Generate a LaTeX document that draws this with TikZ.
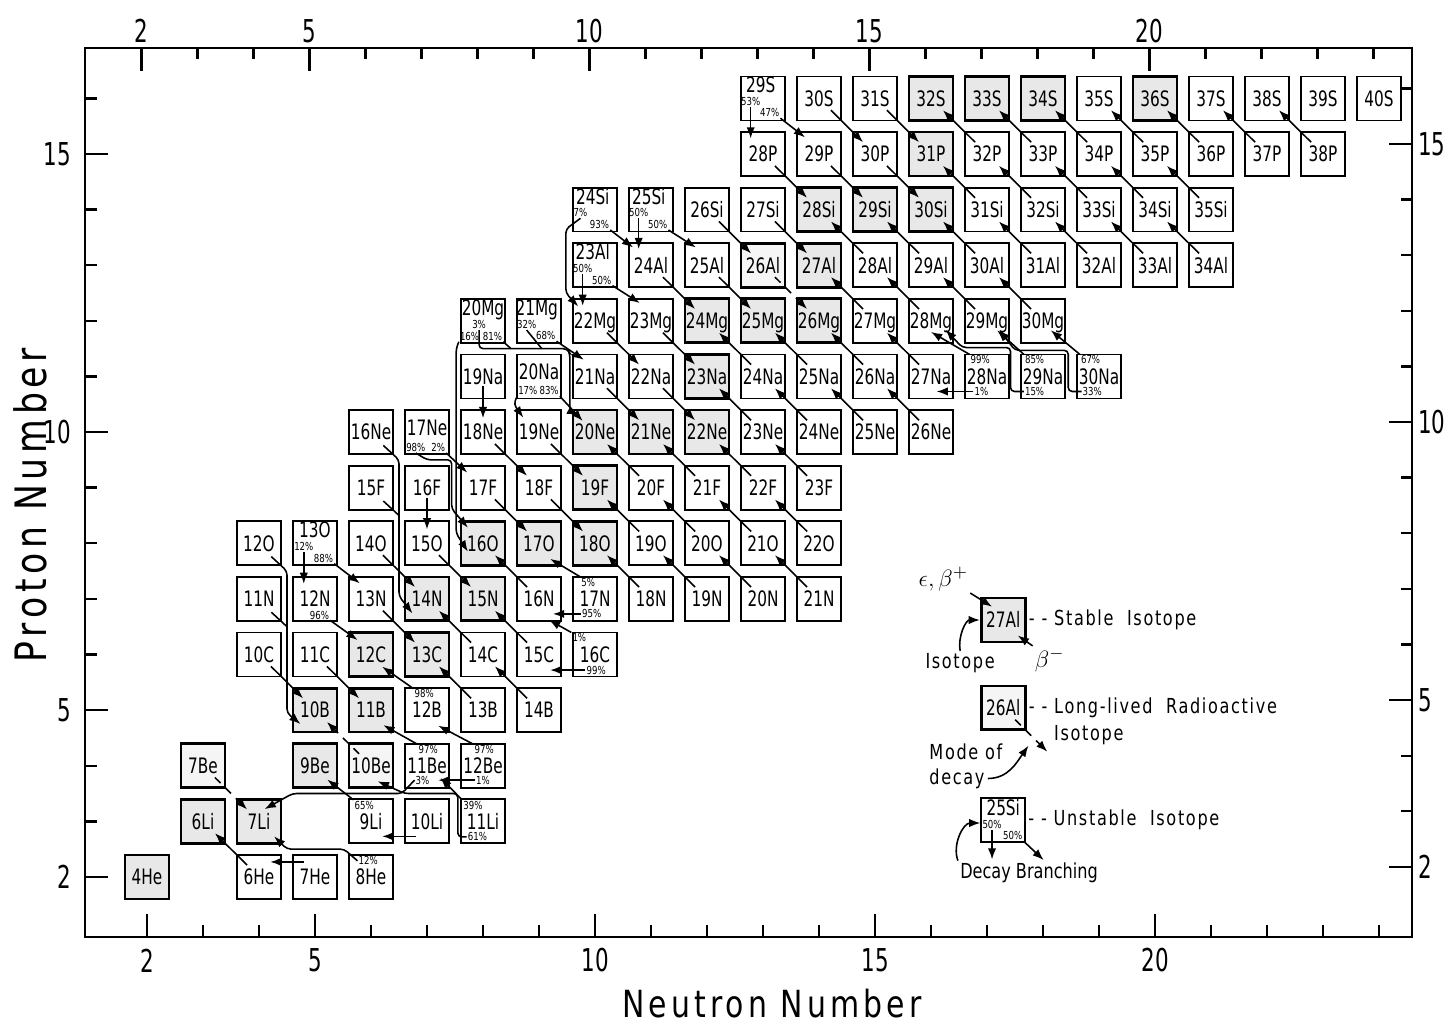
\documentclass[tikz,border=0pt]{standalone}
\usepackage{fontspec}
\setmainfont{DejaVu Sans}[FakeStretch=0.78]
\newfontfamily\nucfam{DejaVu Sans}[FakeStretch=0.72]
\newfontfamily\axisfam{DejaVu Sans}[FakeStretch=0.68]
\newfontfamily\titlefam{DejaVu Sans}[FakeStretch=0.8,LetterSpace=11]
\newfontfamily\legfam{DejaVu Sans}[FakeStretch=0.78,LetterSpace=8]
\usetikzlibrary{arrows.meta,calc}

\newcommand\nucfont{\nucfam\fontsize{10.8}{12}\selectfont}
\newcommand\pctfont{\fontsize{5.6}{6}\selectfont}

\tikzset{
  nuc/.style={draw, line width=.9pt, minimum size=.785cm, inner sep=0pt, font=\nucfont, text height=7.9pt, text depth=0pt},
  stable/.style={nuc, line width=1.4pt, fill=black!9},
  longlived/.style={nuc, line width=1.4pt, fill=black!4},
  tag/.style={inner sep=0pt, font=\nucfont, text height=7.9pt, text depth=0pt},
  pct/.style={inner sep=.4pt, font=\pctfont},
  flow/.style={line width=.8pt, -{Latex[length=2mm,width=1.5mm]}},
  decay/.style={flow, shorten <=.3cm, shorten >=.3cm},
  ec/.style={decay, dash pattern=on 4pt off 3.5pt},
  route/.style={line width=.8pt, rounded corners=2pt},
  axisline/.style={line width=1.2pt},
  ticklab/.style={font=\axisfam\fontsize{16}{18}\selectfont, inner sep=1pt},
  title/.style={font=\titlefam\fontsize{19}{22}\selectfont},
  legtxt/.style={font=\legfam\fontsize{10.5}{12.8}\selectfont, inner sep=1pt}
}

\begin{document}
\begin{tikzpicture}[x=1cm,y=.993cm]
\useasboundingbox (-.625,-.647) rectangle (25.268,17.77);

\draw[axisline] (.893,.917) rectangle (24.59,16.91);
\foreach \n in {2,...,24} {
  \draw[axisline] (\n,.917) -- ++(0,.21);
  \draw[axisline] (\n-.1,16.91) -- ++(0,-.21);
}
\foreach \n in {2,5,10,15,20} {
  \draw[axisline] (\n,.917) -- ++(0,.41);
  \draw[axisline] (\n-.1,16.91) -- ++(0,-.41);
  \node[ticklab] (bot\n) at (\n,.5) {\n};
  \node[ticklab] (top\n) at (\n-.1,17.21) {\n};
}
\foreach \z in {2,...,16} {
  \draw[axisline] (.893,\z) -- ++(.21,0);
  \draw[axisline] (24.59,\z+.18) -- ++(-.19,0);
}
\foreach \z in {2,5,10,15} {
  \draw[axisline] (.893,\z) -- ++(.41,0);
  \draw[axisline] (24.59,\z+.18) -- ++(-.41,0);
  \node[ticklab,anchor=east] (lft\z) at (.68,\z) {\z};
  \node[ticklab,anchor=west] (rgt\z) at (24.66,\z+.18) {\z};
}
\node[title] (ntitle) at (13.16,-.27) {Neutron Number};
\node[title, font=\titlefam\fontsize{22}{26}\selectfont, rotate=90] (ztitle) at (-.09,8.69) {Proton Number};

\foreach \n/\z/\a/\el in {2/2/4/He, 3/3/6/Li, 4/3/7/Li, 5/4/9/Be, 5/5/10/B, 6/5/11/B, 6/6/12/C, 7/6/13/C, 7/7/14/N, 8/7/15/N, 8/8/16/O, 9/8/17/O, 10/8/18/O, 10/9/19/F, 10/10/20/Ne, 11/10/21/Ne, 12/10/22/Ne, 12/11/23/Na, 12/12/24/Mg, 13/12/25/Mg, 14/12/26/Mg, 14/13/27/Al, 14/14/28/Si, 15/14/29/Si, 16/14/30/Si, 16/15/31/P, 16/16/32/S, 17/16/33/S, 18/16/34/S, 20/16/36/S}
  \node[stable] (\el\a) at (\n,\z) {\a\el};
\foreach \n/\z/\a/\el in {3/4/7/Be, 6/4/10/Be, 13/13/26/Al}
  \node[longlived] (\el\a) at (\n,\z) {\a\el};
\foreach \n/\z/\a/\el in {4/2/6/He, 5/2/7/He, 6/2/8/He, 6/3/9/Li, 7/3/10/Li, 8/3/11/Li, 7/4/11/Be, 8/4/12/Be, 7/5/12/B, 8/5/13/B, 9/5/14/B, 4/6/10/C, 5/6/11/C, 8/6/14/C, 9/6/15/C, 10/6/16/C, 4/7/11/N, 5/7/12/N, 6/7/13/N, 9/7/16/N, 10/7/17/N, 11/7/18/N, 12/7/19/N, 13/7/20/N, 14/7/21/N, 4/8/12/O, 6/8/14/O, 7/8/15/O, 11/8/19/O, 12/8/20/O, 13/8/21/O, 14/8/22/O, 6/9/15/F, 7/9/16/F, 8/9/17/F, 9/9/18/F, 11/9/20/F, 12/9/21/F, 13/9/22/F, 14/9/23/F, 6/10/16/Ne, 8/10/18/Ne, 9/10/19/Ne, 13/10/23/Ne, 14/10/24/Ne, 15/10/25/Ne, 16/10/26/Ne, 8/11/19/Na, 10/11/21/Na, 11/11/22/Na, 13/11/24/Na, 14/11/25/Na, 15/11/26/Na, 16/11/27/Na, 17/11/28/Na, 18/11/29/Na, 19/11/30/Na, 10/12/22/Mg, 11/12/23/Mg, 15/12/27/Mg, 16/12/28/Mg, 17/12/29/Mg, 18/12/30/Mg, 11/13/24/Al, 12/13/25/Al, 15/13/28/Al, 16/13/29/Al, 17/13/30/Al, 18/13/31/Al, 19/13/32/Al, 20/13/33/Al, 21/13/34/Al, 12/14/26/Si, 13/14/27/Si, 17/14/31/Si, 18/14/32/Si, 19/14/33/Si, 20/14/34/Si, 21/14/35/Si, 13/15/28/P, 14/15/29/P, 15/15/30/P, 17/15/32/P, 18/15/33/P, 19/15/34/P, 20/15/35/P, 21/15/36/P, 22/15/37/P, 23/15/38/P, 14/16/30/S, 15/16/31/S, 19/16/35/S, 21/16/37/S, 22/16/38/S, 23/16/39/S, 24/16/40/S}
  \node[nuc] (\el\a) at (\n,\z) {\a\el};
\foreach \n/\z/\nm in {5/8/O13, 7/10/Ne17, 9/11/Na20, 8/12/Mg20, 9/12/Mg21, 10/13/Al23, 10/14/Si24, 11/14/Si25, 13/16/S29}
  \node[nuc] (\nm) at (\n,\z) {};

\node[tag] (O13t) at ($(O13)+(0,.24)$) {13O};
\node[pct] (O13a) at ($(O13)+(-.2,-.06)$) {12\%};
\node[pct] (O13b) at ($(O13)+(.15,-.27)$) {88\%};
\node[tag] (Ne17t) at ($(Ne17)+(0,.07)$) {17Ne};
\node[pct] (Ne17a) at ($(Ne17)+(-.2,-.28)$) {98\%};
\node[pct] (Ne17b) at ($(Ne17)+(.2,-.28)$) {2\%};
\node[tag] (Na20t) at ($(Na20)+(0,.09)$) {20Na};
\node[pct] (Na20a) at ($(Na20)+(-.2,-.26)$) {17\%};
\node[pct] (Na20b) at ($(Na20)+(.18,-.26)$) {83\%};
\node[tag] (Mg20t) at ($(Mg20)+(0,.24)$) {20Mg};
\node[pct] (Mg20a) at ($(Mg20)+(-.07,-.07)$) {3\%};
\node[pct] (Mg20b) at ($(Mg20)+(-.24,-.28)$) {16\%};
\node[pct] (Mg20c) at ($(Mg20)+(.17,-.28)$) {81\%};
\node[tag] (Mg21t) at ($(Mg21)+(-.04,.24)$) {21Mg};
\node[pct] (Mg21a) at ($(Mg21)+(-.22,-.07)$) {32\%};
\node[pct] (Mg21b) at ($(Mg21)+(.12,-.27)$) {68\%};
\node[tag] (Al23t) at ($(Al23)+(-.04,.24)$) {23Al};
\node[pct] (Al23a) at ($(Al23)+(-.22,-.06)$) {50\%};
\node[pct] (Al23b) at ($(Al23)+(.12,-.27)$) {50\%};
\node[tag] (Si24t) at ($(Si24)+(-.04,.24)$) {24Si};
\node[pct] (Si24a) at ($(Si24)+(-.26,-.06)$) {7\%};
\node[pct] (Si24b) at ($(Si24)+(.08,-.27)$) {93\%};
\node[tag] (Si25t) at ($(Si25)+(-.04,.24)$) {25Si};
\node[pct] (Si25a) at ($(Si25)+(-.22,-.06)$) {50\%};
\node[pct] (Si25b) at ($(Si25)+(.12,-.27)$) {50\%};
\node[tag] (S29t) at ($(S29)+(-.04,.24)$) {29S};
\node[pct] (S29a) at ($(S29)+(-.22,-.05)$) {53\%};
\node[pct] (S29b) at ($(S29)+(.12,-.26)$) {47\%};

\node[pct] (He8a) at ($(He8)+(-.05,.29)$) {12\%};
\node[pct] (Li9a) at ($(Li9)+(-.12,.29)$) {65\%};
\node[pct] (Li11a) at ($(Li11)+(-.18,.29)$) {39\%};
\node[pct] (Li11b) at ($(Li11)+(-.1,-.28)$) {61\%};
\node[pct] (Be11a) at ($(Be11)+(.02,.29)$) {97\%};
\node[pct] (Be11b) at ($(Be11)+(-.08,-.26)$) {3\%};
\node[pct] (Be12a) at ($(Be12)+(.02,.29)$) {97\%};
\node[pct] (Be12b) at ($(Be12)+(0,-.26)$) {1\%};
\node[pct] (B12a) at ($(B12)+(-.05,.29)$) {98\%};
\node[pct] (N12a) at ($(N12)+(.08,-.29)$) {96\%};
\node[pct] (C16a) at ($(C16)+(-.28,.3)$) {1\%};
\node[pct] (C16b) at ($(C16)+(.02,-.28)$) {99\%};
\node[pct] (N17a) at ($(N17)+(-.12,.3)$) {5\%};
\node[pct] (N17b) at ($(N17)+(-.06,-.27)$) {95\%};
\node[pct] (Na28a) at ($(Na28)+(-.12,.3)$) {99\%};
\node[pct] (Na28b) at ($(Na28)+(-.1,-.27)$) {1\%};
\node[pct] (Na29a) at ($(Na29)+(-.15,.3)$) {85\%};
\node[pct] (Na29b) at ($(Na29)+(-.15,-.27)$) {15\%};
\node[pct] (Na30a) at ($(Na30)+(-.15,.3)$) {67\%};
\node[pct] (Na30b) at ($(Na30)+(-.12,-.27)$) {33\%};

\foreach \p/\d in {C10/B10, C11/B11, N13/C13, O14/N14, O15/N15, F17/O17, F18/O18, Ne18/F18, Ne19/F19, Na21/Ne21, Na22/Ne22, Mg22/Na22, Mg23/Na23, Al24/Mg24, Al25/Mg25, Si26/Al26, Si27/Al27, P28/Si28, P29/Si29, P30/Si30, S30/P30, S31/P31, He6/Li6, B13/C13, B14/C14, C14/N14, C15/N15, N16/O16, N18/O18, N19/O19, N20/O20, N21/O21, O19/F19, O20/F20, O21/F21, O22/F22, F20/Ne20, F21/Ne21, F22/Ne22, F23/Ne23, Ne23/Na23, Ne24/Na24, Ne25/Na25, Ne26/Na26, Na24/Mg24, Na25/Mg25, Na26/Mg26, Na27/Mg27, Mg27/Al27, Mg28/Al28, Mg29/Al29, Mg30/Al30, Al28/Si28, Al29/Si29, Al30/Si30, Al31/Si31, Al32/Si32, Al33/Si33, Al34/Si34, Si31/P31, Si32/P32, Si33/P33, Si34/P34, Si35/P35, P32/S32, P33/S33, P34/S34, P35/S35, P36/S36, P37/S37, P38/S38}
  \draw[decay] (\p.center) -- (\d.center);
\foreach \p/\d in {Be7/Li7, Be10/B10, Al26/Mg26}
  \draw[ec] (\p.center) -- (\d.center);

\draw[flow] ($(He7)+(-.2,.27)$) -- ($(He6)+(.2,.27)$);
\draw[flow] ($(Li10)+(-.2,-.27)$) -- ($(Li9)+(.2,-.27)$);
\draw[flow] ($(Na19)+(0,-.18)$) -- ($(Ne18)+(0,.25)$);
\draw[flow] ($(F16)+(0,-.18)$) -- ($(O15)+(0,.25)$);
\draw[flow,route] (He8a.west) -- (5.52,2.5) -- (4.5,2.5) -- ($(Li7)+(.27,-.27)$);
\draw[flow] (Li9a.north west) -- ($(Be9)+(.22,-.25)$);
\draw[flow] (Li11a.north west) -- ($(Be11)+(.24,-.22)$);
\draw[flow,route] (Li11b.west) -- (7.55,2.72) -- (7.55,3.5) -- (6.6,3.5) -- ($(Be10)+(.12,-.28)$);
\draw[flow] (Be11a.north west) -- ($(B11)+(.22,-.27)$);
\draw[flow,route] (Be11b.west) -- (6.55,3.5) -- (4.6,3.5) -- ($(Li7)+(.1,.22)$);
\draw[flow] (Be12a.north west) -- ($(B12)+(.2,-.28)$);
\draw[flow] (Be12b.west) -- ($(Be12b.west -| Be11)+(.2,0)$);
\draw[flow] (B12a.north west) -- ($(C12)+(.2,-.22)$);
\draw[flow] (N12a.south east) -- ($(C12)+(-.24,.26)$);
\draw[flow] (O13a.south) -- ($(O13a.south |- N12)+(0,.27)$);
\draw[flow] (O13b.south east) -- ($(N13)+(-.2,.28)$);
\draw[flow,route] ($(O12)+(.22,-.24)$) -- (4.5,7.5) -- (4.5,4.95) -- ($(B10)+(-.26,-.25)$);
\draw[route] ($(N11)+(.22,-.24)$) -- (4.5,6.5);
\draw[flow,route] ($(Ne16)+(.22,-.24)$) -- (6.5,9.5) -- (6.5,7.05) -- ($(N14)+(-.26,-.26)$);
\draw[route] ($(F15)+(.22,-.24)$) -- (6.5,8.5);
\draw[flow] (C16a.north west) -- ($(N16)+(.18,-.38)$);
\draw[flow] (C16b.west) -- ($(C16b.west -| C15)+(.2,0)$);
\draw[flow] (N17a.north west) -- ($(O17)+(.2,-.28)$);
\draw[flow] (N17b.west) -- ($(N17b.west -| N16)+(.25,0)$);
\draw[flow,route] (Ne17a.south) -- (7,9.5) -- (7.44,9.5) -- (7.44,8.62) -- ($(O16)+(-.27,.28)$);
\draw[flow] (Ne17b.south east) -- ($(F17)+(-.28,.27)$);
\draw[flow,route] (Mg20b.south west) -- (7.52,11.5) -- (7.52,8.18) -- ($(O16)+(-.27,-.15)$);
\draw[flow,route] (Mg20a.south) |- (9.5,11.5) -- (9.55,11.42) -- (9.55,10.38) -- ($(Ne20)+(-.3,.3)$);
\draw[route] (Mg20c.south east) -- (8.5,11.5);
\draw[route] (Mg21a.south) -- (9.05,11.5);
\draw[flow] (Mg21b.south east) -- ($(Na21)+(-.2,.3)$);
\draw[flow,route] (Na20a.south west) -- (8.55,10.5) -- ($(Ne19)+(-.28,.26)$);
\draw[flow] (Na20b.south east) -- ($(Ne20)+(-.22,.2)$);
\draw[flow] (Al23a.south) -- ($(Al23a.south |- Mg22)+(0,.27)$);
\draw[flow] (Al23b.south east) -- ($(Mg23)+(-.2,.32)$);
\draw[flow,route] (Si24a.south) -- (9.48,13.65) -- (9.48,12.5) -- ($(Mg22)+(-.3,.26)$);
\draw[flow] (Si24b.south east) -- ($(Al24)+(-.32,.32)$);
\draw[flow] (Si25a.south) -- ($(Si25a.south |- Al24)+(0,.29)$);
\draw[flow] (Si25b.south east) -- ($(Al25)+(-.2,.32)$);
\draw[flow] (S29a.south) -- ($(S29a.south |- P28)+(0,.28)$);
\draw[flow] (S29b.south east) -- ($(P29)+(-.25,.3)$);
\draw[flow] (Na28a.north west) -- ($(Mg28)+(0,-.2)$);
\draw[flow] (Na28b.west) -- ($(Na28b.west -| Na27)+(.1,0)$);
\draw[flow] (Na29a.north west) -- ($(Mg29)+(.18,-.17)$);
\draw[flow,route] (Na29b.west) -- (17.42,10.73) -- (17.42,11.52) -- (16.56,11.52) -- ($(Mg28)+(.26,-.16)$);
\draw[flow] (Na30a.north west) -- ($(Mg30)+(.14,-.17)$);
\draw[flow,route] (Na30b.west) -- (18.45,10.73) -- (18.45,11.47) -- (17.5,11.47) -- ($(Mg29)+(.22,-.16)$);

\node[stable] (L27) at (17.29,6.62) {27Al};
\node[longlived] (L26) at (17.29,5.04) {26Al};
\node[nuc] (L25) at (17.29,3.02) {};
\node[tag] (L25t) at ($(L25)+(0,.22)$) {25Si};
\node[pct] (L25a) at ($(L25)+(-.2,-.08)$) {50\%};
\node[pct] (L25b) at ($(L25)+(.17,-.28)$) {50\%};
\node[legtxt,anchor=west] (stab) at (L27.east) {-~-~Stable~~Isotope};
\node[legtxt,anchor=west] (llr) at (L26.east) {-~-~Long-lived~~Radioactive};
\node[legtxt,anchor=north west] (lli) at ($(llr.south west)+(0,-.05)$) {\phantom{-~-~}Isotope};
\node[legtxt,anchor=west] (uns) at (L25.east) {-~-~Unstable~~Isotope};
\node[legtxt, font=\fontsize{13}{15}\selectfont] (eps) at (16.22,7.36) {$\epsilon,\beta^{+}$};
\draw[flow] (eps.south east) -- ($(L27)+(-.2,.24)$);
\node[legtxt] (iso) at (16.52,5.85) {Isotope};
\draw[flow] (iso.north) to[out=100,in=180] (L27.west);
\node[legtxt, font=\fontsize{13}{15}\selectfont] (bm) at (18.12,5.9) {$\beta^{-}$};
\draw[flow] (bm.north west) -- ($(L27)+(.26,-.28)$);
\coordinate (L26d) at ($(L26)+(1,-1)$);
\draw[ec] (L26.center) -- (L26d);
\node[legtxt,align=left,anchor=west] (mode) at (15.93,3.99) {Mode of\\decay};
\draw[flow] ($(mode.east)+(-.3,-.22)$) to[out=0,in=235] ($(L26)+(.45,-.68)$);
\draw[flow] (L25a.south) -- ++(0,-.53);
\draw[flow] (L25b.south east) -- ++(.36,-.34);
\node[font=\fontsize{10.5}{12.8}\selectfont, inner sep=1pt] (dbr) at (17.75,2.07) {Decay Branching};
\draw[flow] (dbr.north west) to[out=110,in=180] ($(L25.west)+(0,-.05)$);
\end{tikzpicture}
\end{document}
